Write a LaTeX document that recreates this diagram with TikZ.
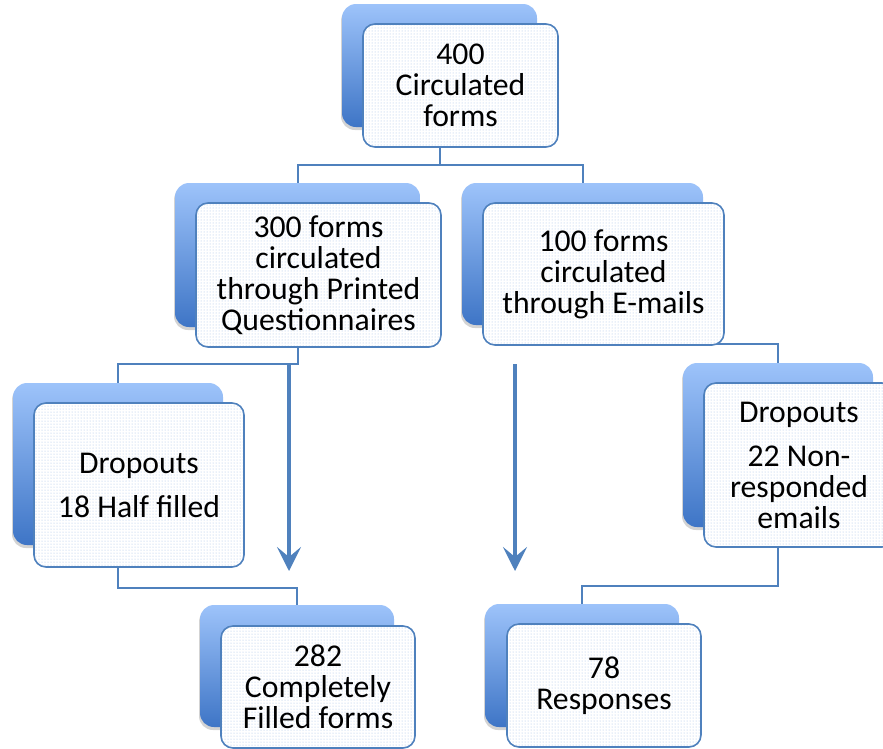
\documentclass[tikz,border=0pt]{standalone}
\usepackage{fontspec}
\setmainfont{Carlito}
\usepackage{tikz}
\usetikzlibrary{calc,positioning,arrows.meta,patterns,shadows,backgrounds}
\definecolor{edge}{HTML}{4F81BD}
\definecolor{backtop}{HTML}{9DC3FA}
\definecolor{backbot}{HTML}{3E75C6}
\definecolor{dotblue}{HTML}{A4C0E8}

\tikzset{
  card/.style={draw=edge, line width=1.6pt, rounded corners=12pt, preaction={fill=white},
    pattern=dots, pattern color=dotblue, align=center, inner sep=0pt,
    font=\fontsize{31.7}{31}\selectfont},
  cardback/.style={rounded corners=14pt, top color=backtop, bottom color=backbot, inner sep=0pt,
    drop shadow={shadow xshift=-1pt, shadow yshift=-3pt, opacity=.35}},
  size/.style 2 args={minimum width=#1pt, minimum height=#2pt},
  link/.style={draw=edge, line width=2pt},
  flow/.style={draw=edge, line width=4.5pt, -{Stealth[length=24pt,width=24pt,inset=10pt]}}
}

\begin{document}
\begin{tikzpicture}[x=1pt,y=-1pt]
  \useasboundingbox (0,0) rectangle (883,748);

  \node[cardback, size={195}{123}] (topB) at (439.5,65.5) {};
  \node[card, size={195}{123}] (top) at ([shift={(21,20)}]topB.center) {400\\Circulated\\forms};

  \node[cardback, size={245}{144}] (l2lB) at (297.5,255) {};
  \node[card, size={245}{144}] (l2l) at ([shift={(21,20)}]l2lB.center) {300 forms\\circulated\\through Printed\\Questionnaires};

  \node[cardback, size={241}{142}] (l2rB) at (582.5,254) {};
  \node[card, size={241}{142}] (l2r) at ([shift={(21,20)}]l2rB.center) {100 forms\\circulated\\through E-mails};

  \node[cardback, size={210}{162}] (l3lB) at (118,464) {};
  \node[card, size={210}{164}] (l3l) at ([shift={(21,21)}]l3lB.center) {Dropouts\\[13pt]18 Half filled};

  \node[cardback, size={190}{164}] (l3rB) at (778,445) {};
  \node[card, size={190}{164}] (l3r) at ([shift={(21,20)}]l3rB.center) {Dropouts\\[13pt]22 Non-\\responded\\emails};

  \node[cardback, size={194}{122}] (l4lB) at (297,666) {};
  \node[card, size={194}{122}] (l4l) at ([shift={(21,21)}]l4lB.center) {282\\Completely\\Filled forms};

  \node[cardback, size={194}{123}] (l4rB) at (582,665.5) {};
  \node[card, size={194}{123}] (l4r) at ([shift={(22,20)}]l4rB.center) {78\\Responses};

  \coordinate (printStart) at (289,364);
  \coordinate (printEnd) at (289,571);
  \coordinate (mailStart) at (515,364);
  \coordinate (mailEnd) at (515,571);

  \begin{scope}[on background layer]
    \draw[link] (topB.center) -- (topB.center |- 0,165) -| (l2lB.center);
    \draw[link] (topB.center) -- (topB.center |- 0,165) -| (l2rB.center);
    \draw[link] (l2lB.center) -- (l2lB.center |- 0,364) -| (l3lB.center);
    \draw[link] (l3lB.center) -- (l3lB.center |- 0,588) -| (l4lB.center);
    \draw[link] (l2rB.center) -- (l2rB.center |- 0,344) -| (l3rB.center);
    \draw[link] (l3rB.center) -- (l3rB.center |- 0,586) -| (l4rB.center);
  \end{scope}

  \draw[flow] (printStart) -- (printEnd);
  \draw[flow] (mailStart) -- (mailEnd);
\end{tikzpicture}
\end{document}
